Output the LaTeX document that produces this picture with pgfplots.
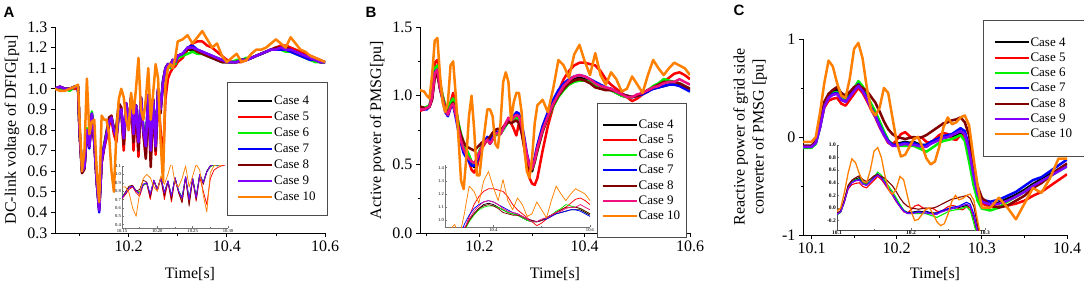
\documentclass[border=0pt]{standalone}
\usepackage{pgfplots}
\pgfplotsset{compat=1.18}
\usepackage{pgfplotstable}
\usepackage{fontspec}
\setmainfont{Liberation Serif}
\newfontfamily\lettersf{Liberation Sans}

\definecolor{cfour}{HTML}{000000}
\definecolor{cfive}{HTML}{FF0000}
\definecolor{csix}{HTML}{00F000}
\definecolor{cseven}{HTML}{0000FF}
\definecolor{ceight}{HTML}{800000}
\definecolor{cnine}{HTML}{8000FF}
\definecolor{cninepink}{HTML}{F0107F}
\definecolor{cten}{HTML}{FF8000}

\pgfplotstableread{
t c4 c5 c6 c7 c8 c9 c10
10.050 1.00 1.00 1.00 1.00 1.00 1.00 1.00
10.060 1.01 1.01 1.00 1.01 1.01 1.01 0.99
10.070 1.00 1.00 1.00 1.00 1.00 1.00 0.99
10.080 1.00 1.00 0.99 1.00 1.00 1.00 1.00
10.090 1.01 1.00 1.01 1.01 1.01 1.01 1.01
10.097 1.01 1.00 1.01 1.01 1.01 1.01 1.02
10.100 0.80 0.80 0.80 0.80 0.78 0.80 0.85
10.105 0.60 0.61 0.61 0.60 0.59 0.60 0.60
10.110 0.62 0.62 0.63 0.62 0.61 0.62 0.70
10.115 0.80 0.80 0.81 0.80 0.79 0.80 1.05
10.120 0.72 0.72 0.74 0.71 0.72 0.72 0.78
10.125 0.88 0.87 0.89 0.88 0.87 0.88 0.84
10.130 0.75 0.74 0.77 0.75 0.74 0.75 0.85
10.135 0.55 0.55 0.56 0.55 0.55 0.55 0.60
10.140 0.42 0.42 0.42 0.40 0.42 0.41 0.45
10.145 0.65 0.64 0.66 0.65 0.64 0.65 0.87
10.150 0.72 0.71 0.73 0.72 0.72 0.72 0.85
10.155 0.78 0.76 0.79 0.78 0.79 0.78 0.85
10.160 0.84 0.82 0.85 0.84 0.86 0.84 0.78
10.165 0.86 0.85 0.86 0.86 0.87 0.86 0.60
10.170 0.80 0.78 0.81 0.80 0.80 0.80 0.50
10.175 0.77 0.74 0.79 0.77 0.82 0.77 0.78
10.180 0.88 0.87 0.87 0.88 0.93 0.88 0.95
10.185 0.90 0.89 0.89 0.90 0.91 0.90 1.00
10.190 0.74 0.70 0.76 0.76 0.73 0.76 0.96
10.195 0.93 0.92 0.92 0.93 0.93 0.93 0.85
10.200 0.82 0.80 0.83 0.82 0.82 0.82 0.80
10.205 0.96 0.95 0.95 0.96 0.96 0.96 0.98
10.210 0.77 0.70 0.79 0.78 0.74 0.78 0.88
10.215 0.92 0.91 0.91 0.92 0.92 0.92 1.00
10.220 0.73 0.67 0.75 0.74 0.70 0.74 1.15
10.225 0.96 0.95 0.95 0.96 0.96 0.96 0.90
10.230 0.80 0.78 0.81 0.80 0.79 0.80 0.85
10.235 0.71 0.67 0.73 0.72 0.66 0.72 0.95
10.240 0.97 0.96 0.96 0.97 0.97 0.97 1.10
10.245 0.69 0.65 0.71 0.70 0.62 0.70 0.85
10.250 0.95 0.93 0.94 0.95 0.95 0.95 0.98
10.255 0.72 0.68 0.74 0.72 0.70 0.72 1.12
10.260 1.00 0.97 0.99 1.00 1.00 1.00 1.05
10.265 0.90 0.80 0.91 0.90 0.88 0.90 0.75
10.270 1.04 0.64 1.03 1.03 1.03 1.03 0.55
10.275 1.10 0.95 1.09 1.10 1.10 1.10 1.02
10.280 1.12 1.05 1.11 1.12 1.12 1.12 1.10
10.285 1.11 1.08 1.10 1.11 1.12 1.11 1.12
10.290 1.14 1.10 1.13 1.14 1.14 1.14 1.10
10.295 1.13 1.11 1.12 1.13 1.13 1.13 1.15
10.300 1.16 1.13 1.15 1.16 1.16 1.16 1.23
10.310 1.17 1.15 1.16 1.17 1.17 1.17 1.24
10.320 1.19 1.19 1.17 1.20 1.19 1.20 1.26
10.330 1.19 1.22 1.18 1.21 1.20 1.20 1.22
10.340 1.18 1.23 1.17 1.19 1.18 1.19 1.25
10.350 1.17 1.23 1.17 1.18 1.17 1.18 1.28
10.360 1.16 1.21 1.16 1.17 1.16 1.17 1.24
10.370 1.15 1.20 1.15 1.16 1.15 1.16 1.20
10.380 1.14 1.18 1.15 1.15 1.14 1.15 1.22
10.390 1.13 1.16 1.14 1.14 1.13 1.14 1.16
10.400 1.13 1.14 1.13 1.13 1.13 1.13 1.13
10.410 1.13 1.13 1.13 1.13 1.13 1.13 1.15
10.420 1.13 1.13 1.14 1.13 1.13 1.13 1.17
10.430 1.14 1.13 1.14 1.14 1.14 1.14 1.13
10.440 1.14 1.14 1.15 1.14 1.14 1.14 1.14
10.450 1.15 1.15 1.15 1.15 1.15 1.15 1.17
10.460 1.16 1.16 1.16 1.16 1.16 1.16 1.19
10.470 1.17 1.17 1.17 1.17 1.17 1.17 1.19
10.480 1.18 1.18 1.18 1.18 1.18 1.18 1.20
10.490 1.19 1.19 1.19 1.19 1.19 1.19 1.22
10.500 1.19 1.20 1.19 1.19 1.20 1.19 1.24
10.510 1.19 1.21 1.19 1.19 1.20 1.20 1.22
10.520 1.19 1.21 1.18 1.19 1.20 1.19 1.20
10.530 1.18 1.20 1.18 1.18 1.19 1.19 1.25
10.540 1.18 1.19 1.17 1.17 1.18 1.18 1.22
10.550 1.17 1.18 1.16 1.16 1.17 1.17 1.19
10.560 1.16 1.17 1.15 1.15 1.16 1.16 1.18
10.570 1.15 1.16 1.14 1.14 1.15 1.15 1.16
10.580 1.14 1.15 1.13 1.14 1.14 1.14 1.15
10.590 1.13 1.14 1.13 1.13 1.13 1.13 1.14
10.600 1.13 1.13 1.13 1.13 1.13 1.13 1.13
}\tA

\pgfplotstableread{
t c4 c5 c6 c7 c8 c9 c10
10.087 0.92 0.89 0.91 0.91 0.92 0.90 1.04
10.095 0.91 0.90 0.91 0.90 0.91 0.90 1.03
10.100 0.91 0.91 0.92 0.90 0.91 0.91 1.00
10.105 0.92 0.93 0.93 0.92 0.92 0.92 0.98
10.110 0.98 1.02 1.00 0.99 0.97 0.99 1.15
10.115 1.15 1.24 1.20 1.17 1.13 1.16 1.40
10.120 1.18 1.26 1.22 1.19 1.15 1.19 1.42
10.125 1.06 1.10 1.08 1.05 1.05 1.06 1.15
10.130 0.99 1.00 1.00 0.97 0.98 0.98 0.95
10.135 0.91 0.92 0.93 0.88 0.91 0.90 0.88
10.140 0.87 0.88 0.90 0.85 0.87 0.86 0.95
10.145 0.92 0.95 0.95 0.91 0.92 0.92 1.22
10.150 0.95 1.02 0.98 0.93 0.95 0.94 1.25
10.155 0.87 0.92 0.90 0.84 0.87 0.86 1.00
10.160 0.77 0.80 0.80 0.74 0.78 0.76 0.70
10.165 0.69 0.70 0.72 0.65 0.71 0.67 0.38
10.170 0.63 0.62 0.66 0.58 0.66 0.61 0.32
10.175 0.60 0.57 0.61 0.55 0.63 0.57 0.55
10.180 0.56 0.52 0.57 0.52 0.62 0.54 0.85
10.185 0.51 0.46 0.52 0.49 0.61 0.52 1.00
10.190 0.48 0.44 0.50 0.49 0.60 0.51 0.75
10.195 0.53 0.48 0.54 0.52 0.62 0.54 0.42
10.200 0.59 0.56 0.60 0.58 0.64 0.59 0.42
10.205 0.63 0.62 0.64 0.63 0.66 0.63 0.60
10.210 0.66 0.65 0.66 0.67 0.66 0.66 0.75
10.215 0.68 0.68 0.68 0.70 0.68 0.68 0.90
10.220 0.65 0.66 0.66 0.67 0.70 0.65 0.90
10.225 0.68 0.68 0.68 0.70 0.73 0.68 0.85
10.230 0.72 0.71 0.71 0.73 0.75 0.72 0.65
10.235 0.73 0.72 0.73 0.74 0.76 0.73 0.62
10.240 0.72 0.73 0.72 0.73 0.75 0.72 0.80
10.245 0.76 0.77 0.75 0.76 0.77 0.76 1.10
10.250 0.79 0.80 0.78 0.79 0.79 0.80 1.17
10.255 0.82 0.83 0.81 0.82 0.81 0.84 1.10
10.260 0.80 0.80 0.80 0.82 0.80 0.82 0.82
10.265 0.83 0.76 0.82 0.85 0.81 0.84 0.95
10.270 0.85 0.71 0.84 0.88 0.82 0.86 1.02
10.275 0.82 0.80 0.82 0.87 0.80 0.85 1.02
10.280 0.75 0.74 0.76 0.80 0.73 0.78 0.88
10.285 0.65 0.62 0.66 0.70 0.63 0.68 0.62
10.290 0.55 0.50 0.56 0.58 0.54 0.57 0.45
10.295 0.47 0.40 0.48 0.50 0.47 0.49 0.40
10.300 0.45 0.36 0.46 0.48 0.46 0.47 0.55
10.305 0.53 0.35 0.52 0.55 0.52 0.53 0.80
10.310 0.63 0.40 0.60 0.64 0.60 0.62 0.93
10.320 0.76 0.60 0.74 0.78 0.74 0.75 0.97
10.330 0.85 0.78 0.84 0.88 0.84 0.85 0.88
10.340 0.94 0.92 0.92 0.97 0.93 0.94 1.05
10.350 1.00 1.03 0.99 1.04 1.00 1.01 1.26
10.360 1.05 1.12 1.04 1.09 1.05 1.07 1.22
10.370 1.09 1.18 1.08 1.12 1.09 1.11 1.13
10.380 1.12 1.22 1.10 1.14 1.11 1.14 1.30
10.390 1.13 1.24 1.11 1.15 1.12 1.15 1.37
10.400 1.12 1.24 1.11 1.14 1.11 1.14 1.25
10.410 1.10 1.23 1.10 1.12 1.09 1.12 1.15
10.420 1.08 1.22 1.08 1.10 1.06 1.09 1.31
10.430 1.06 1.18 1.06 1.08 1.05 1.07 1.15
10.440 1.05 1.12 1.05 1.06 1.04 1.06 1.08
10.450 1.04 1.08 1.04 1.05 1.04 1.05 1.17
10.460 1.02 1.05 1.02 1.03 1.03 1.03 1.12
10.470 1.00 1.02 1.00 1.01 1.01 1.01 1.03
10.480 0.99 0.99 0.99 1.00 1.00 0.99 1.05
10.490 0.99 0.96 0.99 0.99 0.99 0.99 1.14
10.500 1.00 0.98 1.00 1.00 1.00 1.01 1.08
10.510 1.02 1.01 1.02 1.01 1.02 1.02 1.02
10.520 1.04 1.03 1.04 1.03 1.04 1.04 1.15
10.530 1.05 1.06 1.07 1.05 1.06 1.06 1.26
10.540 1.06 1.08 1.09 1.06 1.08 1.07 1.20
10.550 1.07 1.10 1.12 1.07 1.10 1.09 1.15
10.560 1.08 1.13 1.11 1.08 1.10 1.10 1.20
10.570 1.08 1.16 1.10 1.08 1.10 1.10 1.24
10.580 1.08 1.17 1.09 1.07 1.09 1.12 1.22
10.590 1.06 1.15 1.07 1.05 1.07 1.10 1.20
10.600 1.04 1.12 1.05 1.03 1.05 1.08 1.15
}\tB

\pgfplotstableread{
t c4 c5 c6 c7 c8 c9 c10
10.090 -0.09 -0.10 -0.11 -0.10 -0.09 -0.10 -0.05
10.095 -0.09 -0.10 -0.11 -0.10 -0.09 -0.10 -0.05
10.100 -0.09 -0.10 -0.11 -0.10 -0.09 -0.10 -0.05
10.105 -0.05 -0.06 -0.07 -0.06 -0.04 -0.06 0.00
10.110 0.12 0.10 0.10 0.10 0.13 0.10 0.25
10.115 0.34 0.30 0.33 0.32 0.36 0.31 0.55
10.120 0.42 0.37 0.41 0.40 0.44 0.40 0.78
10.125 0.46 0.39 0.45 0.44 0.48 0.43 0.72
10.130 0.48 0.40 0.46 0.45 0.51 0.44 0.55
10.135 0.41 0.34 0.40 0.38 0.45 0.38 0.42
10.140 0.38 0.32 0.37 0.36 0.42 0.36 0.40
10.145 0.43 0.38 0.43 0.42 0.46 0.41 0.60
10.150 0.49 0.44 0.50 0.48 0.51 0.47 0.90
10.155 0.53 0.50 0.57 0.54 0.53 0.52 0.96
10.160 0.48 0.45 0.52 0.48 0.50 0.47 0.80
10.165 0.40 0.37 0.43 0.40 0.47 0.39 0.50
10.170 0.30 0.28 0.34 0.30 0.41 0.29 0.28
10.175 0.22 0.20 0.26 0.22 0.35 0.21 0.22
10.180 0.12 0.10 0.16 0.12 0.26 0.11 0.30
10.185 0.03 0.02 0.06 0.03 0.16 0.02 0.50
10.190 -0.04 -0.06 -0.03 -0.04 0.08 -0.05 0.45
10.195 -0.07 -0.08 -0.08 -0.08 0.03 -0.09 0.20
10.200 -0.07 -0.03 -0.09 -0.08 0.00 -0.09 -0.05
10.205 -0.06 0.03 -0.09 -0.07 -0.01 -0.08 -0.20
10.210 -0.05 0.05 -0.09 -0.06 -0.02 -0.07 -0.18
10.215 -0.06 0.01 -0.09 -0.07 -0.01 -0.08 -0.10
10.220 -0.05 -0.02 -0.09 -0.06 0.00 -0.08 -0.02
10.225 -0.07 0.00 -0.11 -0.08 -0.01 -0.09 0.00
10.230 -0.08 -0.01 -0.13 -0.09 0.00 -0.10 -0.10
10.235 -0.08 -0.05 -0.15 -0.08 0.02 -0.10 -0.22
10.240 -0.05 -0.06 -0.12 -0.05 0.05 -0.07 -0.28
10.245 -0.04 -0.02 -0.09 -0.03 0.08 -0.05 -0.25
10.250 -0.02 0.02 -0.06 -0.01 0.11 -0.03 -0.10
10.255 -0.01 0.04 -0.04 0.01 0.14 -0.01 0.10
10.260 0.00 0.03 -0.03 0.02 0.15 0.00 0.20
10.265 0.01 -0.02 -0.02 0.03 0.17 0.02 0.13
10.270 0.02 -0.03 0.00 0.06 0.18 0.04 0.15
10.275 0.04 0.02 0.02 0.09 0.20 0.06 0.20
10.280 0.00 0.00 -0.04 0.06 0.15 0.03 0.22
10.285 -0.18 -0.15 -0.25 -0.10 0.02 -0.14 0.12
10.290 -0.42 -0.40 -0.48 -0.35 -0.28 -0.38 -0.20
10.295 -0.60 -0.60 -0.65 -0.55 -0.50 -0.58 -0.50
10.300 -0.67 -0.68 -0.73 -0.64 -0.62 -0.66 -0.72
10.310 -0.69 -0.71 -0.75 -0.66 -0.70 -0.69 -0.72
10.320 -0.67 -0.71 -0.72 -0.64 -0.72 -0.68 -0.62
10.330 -0.63 -0.70 -0.66 -0.60 -0.70 -0.65 -0.72
10.340 -0.59 -0.68 -0.61 -0.56 -0.65 -0.61 -0.84
10.350 -0.54 -0.65 -0.56 -0.50 -0.60 -0.56 -0.68
10.360 -0.48 -0.60 -0.50 -0.44 -0.52 -0.50 -0.52
10.370 -0.43 -0.56 -0.45 -0.41 -0.47 -0.45 -0.57
10.380 -0.38 -0.50 -0.40 -0.35 -0.40 -0.40 -0.42
10.390 -0.33 -0.44 -0.35 -0.29 -0.33 -0.35 -0.22
10.400 -0.28 -0.38 -0.30 -0.23 -0.27 -0.30 -0.22
}\tC

\pgfplotsset{
  mainax/.style={
    scale only axis,
    axis x line*=bottom, axis y line*=left,
    axis line style={line width=1pt},
    tick style={black, line width=0.8pt},
    tick align=outside,
    major tick length=4pt, minor tick length=2.5pt,
    ticklabel style={font=\fontsize{16}{18}\selectfont},
    /pgf/number format/assume math mode=true,
    every axis x label/.style={at={(axis description cs:0.5,-0.2)}, anchor=center,
      font=\fontsize{16}{18}\selectfont},
    legend cell align=left,
    legend style={draw=black!70, line width=0.9pt, fill=white,
      font=\fontsize{13}{14}\selectfont, inner xsep=10pt, inner ysep=11pt,
      row sep=2pt, anchor=north west,
      /tikz/every odd column/.append style={column sep=-1pt}},
    legend image code/.code={\draw[#1, line width=2pt] (0pt,0pt) -- (34pt,0pt);},
  },
  insetax/.style={
    scale only axis,
    axis x line*=bottom, axis y line*=left,
    axis line style={black!55, line width=0.5pt},
    tick style={black!55, line width=0.4pt},
    tick align=inside,
    major tick length=1.8pt, minor tick length=1pt,
    ticklabel style={font=\fontsize{4.6}{5}\selectfont, inner sep=1pt},
    /pgf/number format/assume math mode=true,
  },
  mline/.style={line width=2.5pt, line join=round},
  iline/.style={line width=0.75pt, line join=round},
}

\begin{document}
\begin{tikzpicture}
\useasboundingbox (0,0) rectangle (1084pt,287pt);

% ---------------- Panel A ----------------
\node[font=\lettersf\bfseries\fontsize{15}{16}\selectfont] at (9pt,275pt) {A};
\begin{axis}[mainax, at={(55pt,54pt)}, anchor=south west,
  width=270pt, height=206pt,
  xmin=10.05, xmax=10.6, ymin=0.3, ymax=1.3,
  xtick={10.2,10.4,10.6}, xticklabels={10.2,10.4,10.6},
  minor xtick={10.1,10.3,10.5},
  ytick={0.3,0.4,0.5,0.6,0.7,0.8,0.9,1.0,1.1,1.2,1.3},
  yticklabels={0.3,0.4,0.5,0.6,0.7,0.8,0.9,1.0,1.1,1.2,1.3},
  xlabel={Time[s]}, ylabel={DC-link voltage of DFIG[pu]},
  every axis y label/.style={at={(axis description cs:-0.159,0.5)}, anchor=center, rotate=90,
    font=\fontsize{16}{18}\selectfont},
  legend style={at={(axis description cs:0.636,0.733)}},
]
\addplot[cfour, mline] table[x=t,y=c4]{\tA};
\addplot[cfive, mline] table[x=t,y=c5]{\tA};
\addplot[csix, mline] table[x=t,y=c6]{\tA};
\addplot[cseven, mline] table[x=t,y=c7]{\tA};
\addplot[ceight, mline] table[x=t,y=c8]{\tA};
\addplot[cnine, mline] table[x=t,y=c9]{\tA};
\addplot[cten, mline] table[x=t,y=c10]{\tA};
\legend{Case 4,Case 5,Case 6,Case 7,Case 8,Case 9,Case 10}
\end{axis}
\begin{axis}[insetax, at={(122pt,59pt)}, anchor=south west,
  width=106pt, height=62pt,
  xmin=10.15, xmax=10.30, ymin=0.36, ymax=1.1,
  xtick={10.15,10.20,10.25,10.30}, xticklabels={10.15,10.20,10.25,10.30},
  minor xtick={10.175,10.225,10.275},
  ytick={0.4,0.5,0.6,0.7,0.8,0.9,1.0,1.1},
  yticklabels={0.4,0.5,0.6,0.7,0.8,0.9,1.0,1.1},
]
\addplot[cfour, iline] table[x=t,y=c4]{\tA};
\addplot[cfive, iline] table[x=t,y=c5]{\tA};
\addplot[csix, iline] table[x=t,y=c6]{\tA};
\addplot[cseven, iline] table[x=t,y=c7]{\tA};
\addplot[ceight, iline] table[x=t,y=c8]{\tA};
\addplot[cnine, iline] table[x=t,y=c9]{\tA};
\addplot[cten, iline] table[x=t,y=c10]{\tA};
\end{axis}

% ---------------- Panel B ----------------
\node[font=\lettersf\bfseries\fontsize{15}{16}\selectfont] at (371pt,275pt) {B};
\begin{axis}[mainax, at={(420pt,54pt)}, anchor=south west,
  width=270pt, height=206pt,
  xmin=10.087, xmax=10.6, ymin=0, ymax=1.5,
  xtick={10.2,10.4,10.6}, xticklabels={10.2,10.4,10.6},
  minor xtick={10.1,10.3,10.5},
  ytick={0,0.5,1.0,1.5}, yticklabels={0.0,0.5,1.0,1.5},
  minor ytick={0.25,0.75,1.25},
  xlabel={Time[s]}, ylabel={Active power of PMSG[pu]},
  every axis y label/.style={at={(axis description cs:-0.159,0.5)}, anchor=center, rotate=90,
    font=\fontsize{16}{18}\selectfont},
  legend style={at={(axis description cs:0.656,0.631)}, inner xsep=4pt, inner ysep=14pt, row sep=1.2pt},
]
\addplot[cfour, mline] table[x=t,y=c4]{\tB};
\addplot[cfive, mline] table[x=t,y=c5]{\tB};
\addplot[csix, mline] table[x=t,y=c6]{\tB};
\addplot[cseven, mline] table[x=t,y=c7]{\tB};
\addplot[ceight, mline] table[x=t,y=c8]{\tB};
\addplot[cninepink, mline] table[x=t,y=c9]{\tB};
\addplot[cten, mline] table[x=t,y=c10]{\tB};
\legend{Case 4,Case 5,Case 6,Case 7,Case 8,Case 9,Case 10}
\end{axis}
\begin{axis}[insetax, at={(445pt,60pt)}, anchor=south west,
  width=145pt, height=62pt,
  xmin=10.3, xmax=10.6, ymin=0.95, ymax=1.42,
  xtick={10.4,10.6}, xticklabels={10.4,10.6},
  minor xtick={10.3,10.5},
  ytick={1.0,1.1,1.2,1.3,1.4}, yticklabels={1.0,1.1,1.2,1.3,1.4},
]
\addplot[cfour, iline] table[x=t,y=c4]{\tB};
\addplot[cfive, iline] table[x=t,y=c5]{\tB};
\addplot[csix, iline] table[x=t,y=c6]{\tB};
\addplot[cseven, iline] table[x=t,y=c7]{\tB};
\addplot[ceight, iline] table[x=t,y=c8]{\tB};
\addplot[cninepink, iline] table[x=t,y=c9]{\tB};
\addplot[cten, iline] table[x=t,y=c10]{\tB};
\end{axis}

% ---------------- Panel C ----------------
\node[font=\lettersf\bfseries\fontsize{15}{16}\selectfont] at (739pt,277pt) {C};
\begin{axis}[mainax, at={(803pt,52pt)}, anchor=south west,
  width=264pt, height=196pt,
  xmin=10.09, xmax=10.4, ymin=-1, ymax=1,
  xtick={10.1,10.2,10.3,10.4}, xticklabels={10.1,10.2,10.3,10.4},
  minor xtick={10.15,10.25,10.35},
  ytick={-1,0,1}, yticklabels={-1,0,1},
  minor ytick={-0.5,0.5},
  xlabel={Time[s]},
  ylabel={Reactive power of grid side\\converter of PMSG [pu]},
  every axis y label/.style={at={(axis description cs:-0.20,0.5)}, anchor=center, rotate=90,
    align=center, font=\fontsize{16}{19}\selectfont},
  legend style={at={(axis description cs:0.682,1.097)}, inner ysep=15pt, row sep=1.2pt},
]
\addplot[cfour, mline] table[x=t,y=c4]{\tC};
\addplot[cfive, mline] table[x=t,y=c5]{\tC};
\addplot[csix, mline] table[x=t,y=c6]{\tC};
\addplot[cseven, mline] table[x=t,y=c7]{\tC};
\addplot[ceight, mline] table[x=t,y=c8]{\tC};
\addplot[cnine, mline] table[x=t,y=c9]{\tC};
\addplot[cten, mline] table[x=t,y=c10]{\tC};
\legend{Case 4,Case 5,Case 6,Case 7,Case 8,Case 9,Case 10}
\end{axis}
\begin{axis}[insetax, at={(837pt,57pt)}, anchor=south west,
  width=148pt, height=85pt,
  xmin=10.1, xmax=10.3, ymin=-0.35, ymax=1.0,
  axis line style={black!70, line width=0.6pt},
  ticklabel style={font=\bfseries\fontsize{5.5}{6}\selectfont, inner sep=1pt},
  xtick={10.1,10.2,10.3}, xticklabels={10.1,10.2,10.3},
  minor xtick={10.15,10.25},
  ytick={-0.2,0,0.2,0.4,0.6,0.8,1.0}, yticklabels={-0.2,0.0,0.2,0.4,0.6,0.8,1.0},
]
\addplot[cfour, line width=1.1pt] table[x=t,y=c4]{\tC};
\addplot[cfive, line width=1.1pt] table[x=t,y=c5]{\tC};
\addplot[csix, line width=1.1pt] table[x=t,y=c6]{\tC};
\addplot[cseven, line width=1.1pt] table[x=t,y=c7]{\tC};
\addplot[ceight, line width=1.1pt] table[x=t,y=c8]{\tC};
\addplot[cnine, line width=1.1pt] table[x=t,y=c9]{\tC};
\addplot[cten, line width=1.3pt] table[x=t,y=c10]{\tC};
\end{axis}
\end{tikzpicture}
\end{document}
